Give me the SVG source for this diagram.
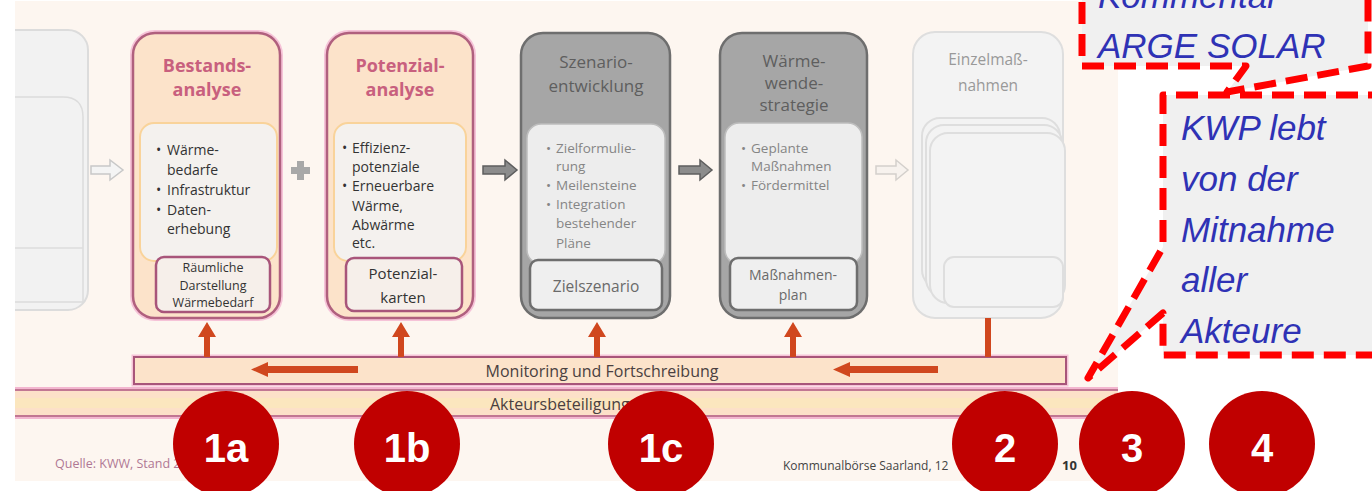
<svg xmlns="http://www.w3.org/2000/svg" width="1372" height="491" viewBox="0 0 1372 491">
<defs>
<style>
.t{font-family:"Open Sans","Noto Sans",sans-serif}
.pk{fill:#FCE3CA;stroke:#B0607E;stroke-width:2.5}
.halo{fill:none;stroke:#F6C3D8;stroke-width:6}
.pin{fill:#F4F1EE;stroke:#F9D39A;stroke-width:2}
.psub{fill:#F6EFEA;stroke:#A8557A;stroke-width:2.5}
.gy{fill:#A6A6A6;stroke:#6E6E6E;stroke-width:2.5}
.gin{fill:#EDEDED;stroke:#BDBDBD;stroke-width:1.5}
.gsub{fill:#EFEFEF;stroke:#6E6E6E;stroke-width:2.5}
.lt{fill:#F3F3F3;stroke:#DEDEDE;stroke-width:2}
.ptitle{font-weight:bold;font-size:18px;fill:#C8607E;text-anchor:middle}
.gtitle{font-size:17px;fill:#5E5E5E;text-anchor:middle}
.bl{font-size:14px;fill:#333}
.gbl{font-size:13.5px;fill:#858585}
.or{fill:#D0471E}
.circ{fill:#C00000}
.num{font-family:"Liberation Sans",Arial,sans-serif;font-weight:bold;font-size:40px;fill:#fff;text-anchor:middle}
.cm{font-family:"Liberation Sans",Arial,sans-serif;font-style:italic;font-size:35px;fill:#2F32B5}
.dash{fill:#F0F0F0;stroke:#FF0000;stroke-width:7;stroke-dasharray:22 10;stroke-linejoin:round}
</style>
<clipPath id="slide"><rect x="15" y="0" width="1103" height="481"/></clipPath>
</defs>
<rect x="0" y="0" width="1372" height="491" fill="#FFFFFF"/>
<rect x="15" y="1" width="1103" height="480" fill="#FDF6F0"/>

<!-- faded left node -->
<g id="node-left" clip-path="url(#slide)">
<rect x="-10" y="30" width="98" height="280" rx="20" fill="#F2F2F2" stroke="#DCDCDC" stroke-width="2"/>
<path d="M10,97 H63 Q83,97 83,117 V302 H10" fill="#F2F2F2" stroke="#DCDCDC" stroke-width="1.5"/>
<line x1="10" y1="248" x2="83" y2="248" stroke="#DCDCDC" stroke-width="1.5"/>
</g>

<!-- Bestandsanalyse -->
<g id="node-bestand">
<rect x="133" y="33" width="147" height="285" rx="22" class="halo"/>
<rect x="133" y="33" width="147" height="285" rx="22" class="pk"/>
<text class="t ptitle" x="207" y="72">Bestands-</text>
<text class="t ptitle" x="207" y="96">analyse</text>
<rect x="140" y="123" width="137" height="138" rx="14" class="pin"/>
<text class="t bl" font-size="15"><tspan x="156" y="155">•</tspan><tspan x="167" y="155">Wärme-</tspan><tspan x="167" y="175">bedarfe</tspan><tspan x="156" y="195">•</tspan><tspan x="167" y="195">Infrastruktur</tspan><tspan x="156" y="215">•</tspan><tspan x="167" y="215">Daten-</tspan><tspan x="167" y="234">erhebung</tspan></text>
<rect x="156" y="257" width="114" height="55" rx="8" class="psub"/>
<text class="t" font-size="12.5" fill="#333" text-anchor="middle"><tspan x="213" y="272">Räumliche</tspan><tspan x="213" y="290">Darstellung</tspan><tspan x="213" y="307">Wärmebedarf</tspan></text>
</g>

<!-- Potenzialanalyse -->
<g id="node-potenzial">
<rect x="327" y="33" width="146" height="285" rx="22" class="halo"/>
<rect x="327" y="33" width="146" height="285" rx="22" class="pk"/>
<text class="t ptitle" x="400" y="72">Potenzial-</text>
<text class="t ptitle" x="400" y="96">analyse</text>
<rect x="334" y="123" width="132" height="138" rx="14" class="pin"/>
<text class="t bl" font-size="13.5"><tspan x="342" y="153">•</tspan><tspan x="352" y="153">Effizienz-</tspan><tspan x="352" y="172">potenziale</tspan><tspan x="342" y="191">•</tspan><tspan x="352" y="191">Erneuerbare</tspan><tspan x="352" y="211">Wärme,</tspan><tspan x="352" y="230">Abwärme</tspan><tspan x="352" y="248">etc.</tspan></text>
<rect x="346" y="258" width="116" height="53" rx="8" class="psub"/>
<text class="t" font-size="15" fill="#333" text-anchor="middle"><tspan x="403" y="279">Potenzial-</tspan><tspan x="403" y="303">karten</tspan></text>
</g>

<!-- Szenarioentwicklung -->
<g id="node-szenario">
<rect x="521" y="33" width="149" height="285" rx="22" class="gy"/>
<text class="t gtitle" x="596" y="68">Szenario-</text>
<text class="t gtitle" x="596" y="92">entwicklung</text>
<rect x="527" y="124" width="138" height="140" rx="14" class="gin"/>
<text class="t gbl"><tspan x="546" y="153">•</tspan><tspan x="556" y="153">Zielformulie-</tspan><tspan x="556" y="171">rung</tspan><tspan x="546" y="190">•</tspan><tspan x="556" y="190">Meilensteine</tspan><tspan x="546" y="209">•</tspan><tspan x="556" y="209">Integration</tspan><tspan x="556" y="228">bestehender</tspan><tspan x="556" y="248">Pläne</tspan></text>
<rect x="530" y="260" width="132" height="50" rx="8" class="gsub"/>
<text class="t" font-size="15.5" fill="#6A6A6A" text-anchor="middle" x="596" y="292">Zielszenario</text>
</g>

<!-- Wärmewendestrategie -->
<g id="node-strategie">
<rect x="720" y="33" width="147" height="285" rx="22" class="gy"/>
<text class="t gtitle" font-size="16" x="794" y="67">Wärme-</text>
<text class="t gtitle" font-size="16" x="794" y="89">wende-</text>
<text class="t gtitle" font-size="16" x="794" y="111">strategie</text>
<rect x="725" y="123" width="137" height="141" rx="14" class="gin"/>
<text class="t gbl"><tspan x="741" y="153">•</tspan><tspan x="751" y="153">Geplante</tspan><tspan x="751" y="171">Maßnahmen</tspan><tspan x="741" y="190">•</tspan><tspan x="751" y="190">Fördermittel</tspan></text>
<rect x="730" y="258" width="127" height="52" rx="8" class="gsub"/>
<text class="t" font-size="14" fill="#6A6A6A" text-anchor="middle"><tspan x="793" y="280">Maßnahmen-</tspan><tspan x="793" y="300">plan</tspan></text>
</g>

<!-- Einzelmaßnahmen -->
<g id="node-einzel">
<rect x="913" y="32" width="150" height="286" rx="22" class="lt"/>
<text class="t" font-size="15.5" fill="#999999" text-anchor="middle"><tspan x="988" y="65">Einzelmaß-</tspan><tspan x="988" y="91">nahmen</tspan></text>
<rect x="922" y="118" width="138" height="170" rx="18" class="lt"/>
<rect x="926" y="125" width="136" height="172" rx="18" class="lt"/>
<rect x="930" y="133" width="135" height="170" rx="18" class="lt"/>
<rect x="944" y="257" width="119" height="50" rx="10" class="lt"/>
</g>

<!-- Monitoring bar -->
<g id="node-monitoring">
<rect x="134" y="357" width="932" height="27" fill="#FCE3CA" stroke="#F6C3D8" stroke-width="5"/>
<rect x="134" y="357" width="932" height="27" fill="#FCE3CA" stroke="#A8557A" stroke-width="2"/>
<text class="t" font-size="16" fill="#4A4040" text-anchor="middle" x="602" y="377">Monitoring und Fortschreibung</text>
</g>

<!-- Akteursbeteiligung bar -->
<g id="node-akteure">
<rect x="15" y="388" width="1103" height="30" fill="#FCE0C8"/>
<rect x="15" y="398" width="1103" height="10" fill="#FBE6BE"/>
<line x1="15" y1="389" x2="1118" y2="389" stroke="#F3B6D0" stroke-width="4"/>
<line x1="15" y1="417" x2="1118" y2="417" stroke="#F3B6D0" stroke-width="4"/>
<line x1="15" y1="390" x2="1118" y2="390" stroke="#B0607E" stroke-width="1.5"/>
<line x1="15" y1="416" x2="1118" y2="416" stroke="#B0607E" stroke-width="1.5"/>
<text class="t" font-size="16" fill="#4A4040" x="490" y="410">Akteursbeteiligung</text>
</g>

<!-- connectors -->
<g id="connectors">
<path d="M91,166 H110 V160 L123,170 L110,180 V174 H91 Z" fill="#F4F4F4" stroke="#C8C8C8" stroke-width="1.5"/>
<path d="M297,161 h7 v6 h6 v7 h-6 v6 h-7 v-6 h-6 v-7 h6 z" fill="#A8A8A8"/>
<path d="M483,166 H505 V160 L517,170 L505,180 V174 H483 Z" fill="#8C8C8C" stroke="#5E5E5E" stroke-width="1.5"/>
<path d="M679,166 H700 V160 L712,170 L700,180 V174 H679 Z" fill="#8C8C8C" stroke="#5E5E5E" stroke-width="1.5"/>
<path d="M876,166 H896 V160 L908,170 L896,180 V174 H876 Z" fill="#F7F2EE" stroke="#D4D0CC" stroke-width="1.5"/>
<g class="or">
<path d="M204,357 V337 H198 L207,322 L216,337 H210 V357 Z"/>
<path d="M398,357 V337 H392 L401,322 L410,337 H404 V357 Z"/>
<path d="M594,357 V337 H588 L597,322 L606,337 H600 V357 Z"/>
<path d="M790,357 V337 H784 L793,322 L802,337 H796 V357 Z"/>
<rect x="985" y="318" width="6" height="39"/>
<path d="M358,366 H268 V362 L251,369.5 L268,377 V373 H358 Z"/>
<path d="M938,366 H850 V362 L833,369.5 L850,377 V373 H938 Z"/>
</g>
</g>

<!-- footer -->
<g id="footer">
<text class="t" font-size="12.5" fill="#B07894" x="55" y="468">Quelle: KWW, Stand 2</text>
<text class="t" font-size="12" fill="#444" x="783" y="470">Kommunalbörse Saarland, 12</text>
<text class="t" font-size="13" font-weight="bold" fill="#333" x="1062" y="470">10</text>
</g>

<!-- number circles -->
<g id="markers">
<circle class="circ" cx="226" cy="444" r="53"/><text class="num" x="226" y="462">1a</text>
<circle class="circ" cx="407" cy="444" r="53"/><text class="num" x="407" y="462">1b</text>
<circle class="circ" cx="661" cy="444" r="53"/><text class="num" x="661" y="462">1c</text>
<circle class="circ" cx="1005" cy="444" r="53"/><text class="num" x="1005" y="462">2</text>
<circle class="circ" cx="1132" cy="444" r="53"/><text class="num" x="1132" y="462">3</text>
<circle class="circ" cx="1262" cy="444" r="53"/><text class="num" x="1262" y="462">4</text>
</g>

<!-- comments -->
<g id="comment-arge">
<path class="dash" d="M1082,-30 V66 H1246 L1227,92 L1368,66 V-30 Z"/>
<text class="cm" font-size="36" x="1098" y="8">Kommentar</text>
<text class="cm" font-size="36" x="1098" y="58">ARGE SOLAR</text>
</g>
<g id="comment-kwp">
<path class="dash" d="M1390,95 H1163 V247 L1088,378 L1163,313 V355 H1390"/>
<text class="cm"><tspan x="1181" y="140">KWP lebt</tspan><tspan x="1181" y="191">von der</tspan><tspan x="1181" y="242">Mitnahme</tspan><tspan x="1181" y="292">aller</tspan><tspan x="1181" y="343">Akteure</tspan></text>
</g>
</svg>
